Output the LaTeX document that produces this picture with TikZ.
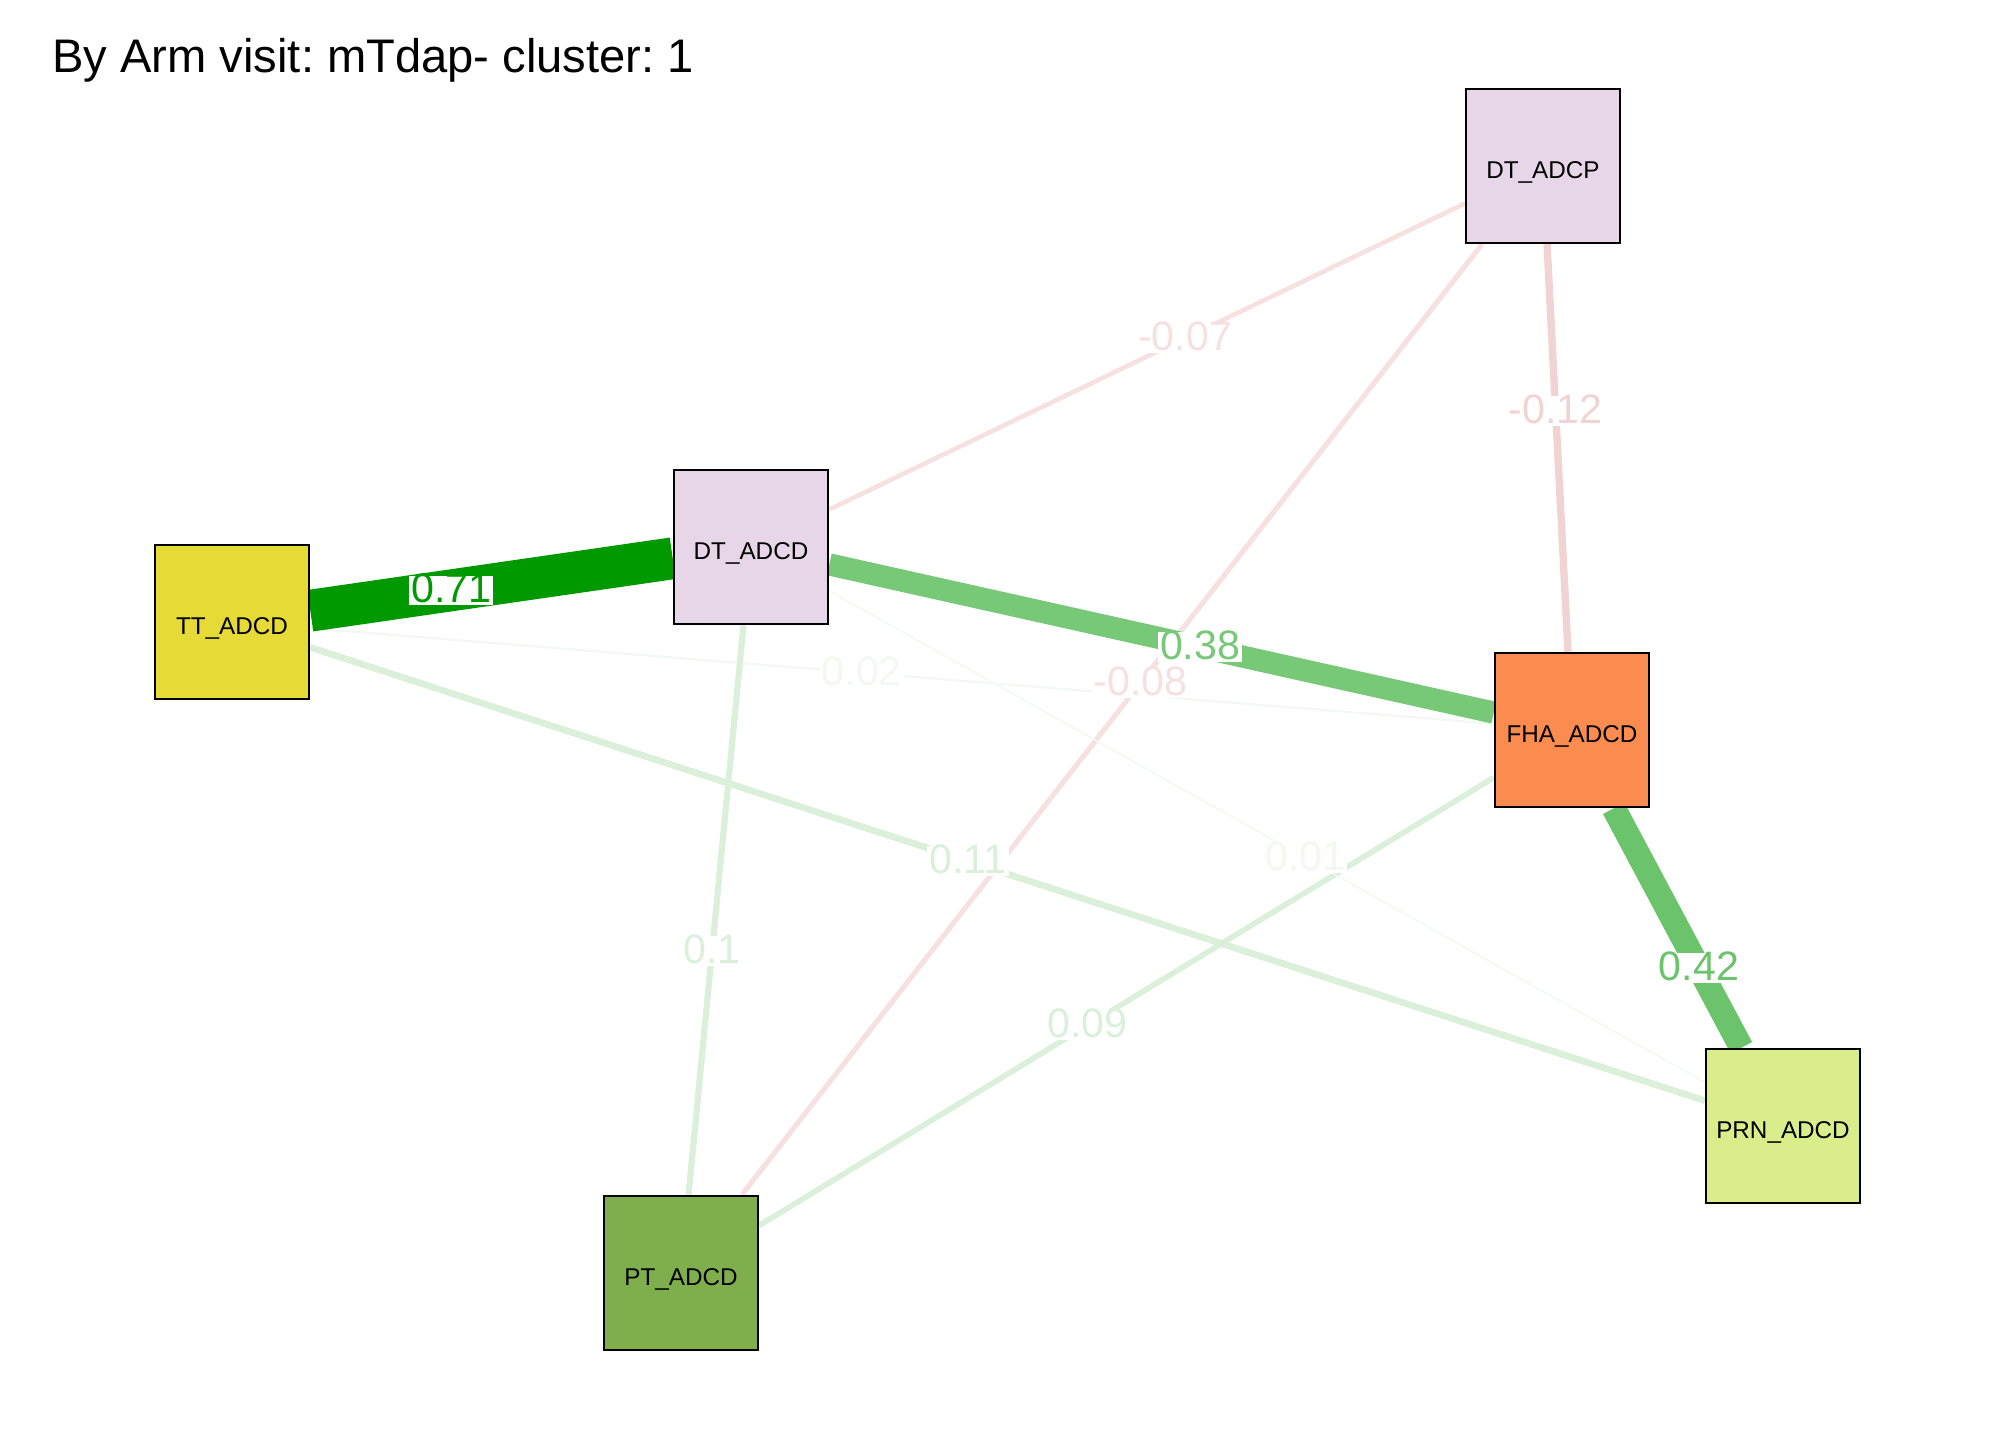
\documentclass[tikz,border=0pt]{standalone}
\usepackage{fontspec}
\setmainfont{Liberation Sans}
\definecolor{ttcol}{HTML}{E5DA36}
\definecolor{dtcol}{HTML}{E7D6E8}
\definecolor{fhacol}{HTML}{FB8C4F}
\definecolor{prncol}{HTML}{D9EE8B}
\definecolor{ptcol}{HTML}{7FAF4C}
\definecolor{wpos71}{HTML}{009900}
\definecolor{wpos42}{HTML}{6BC46B}
\definecolor{wpos38}{HTML}{77C877}
\definecolor{wpos10}{HTML}{DAF0DA}
\definecolor{wpos01}{HTML}{F2F9F2}
\definecolor{wneg07}{HTML}{F6E0E0}
\definecolor{wneg12}{HTML}{F2D3D3}
\pgfdeclarelayer{bg}
\pgfsetlayers{bg,main}
\frenchspacing

\begin{document}
\begin{tikzpicture}[x=0.01cm,y=-0.01cm,
  var/.style={draw,line width=0.7pt,minimum size=1.54cm,inner sep=0pt,text height=0.72em,text depth=0pt,font=\fontsize{6.9}{8}\selectfont},
  wt/.style={fill=white,inner sep=0.6pt,text height=0.72em,text depth=0pt,font=\fontsize{11.7}{13}\selectfont},
  link/.style={line cap=butt}]
\useasboundingbox (0,0) rectangle (2016,1440);
\node[anchor=base west,font=\fontsize{13.4}{16}\selectfont] (title) at (40,73) {By Arm visit: mTdap- cluster: 1};
% variables
\node[var,fill=dtcol] (dtp) at (1543,166) {DT\_ADCP};
\node[var,fill=dtcol] (dtd) at (751,547) {DT\_ADCD};
\node[var,fill=ttcol] (tt) at (232,622) {TT\_ADCD};
\node[var,fill=fhacol] (fha) at (1572,730) {FHA\_ADCD};
\node[var,fill=prncol] (prn) at (1783,1126) {PRN\_ADCD};
\node[var,fill=ptcol] (pt) at (681,1273) {PT\_ADCD};
% weights
\begin{pgfonlayer}{bg}
\draw[link,wpos01,line width=0.6pt](tt) -- node[wt,pos=0.466]{0.02} (fha);
\draw[link,wneg07,line width=1.45pt](dtp) -- node[wt,pos=0.4615]{-0.08} (pt);
\draw[link,wpos10,line width=1.6pt](fha) -- node[wt,pos=0.553]{0.09} (pt);
\draw[link,wpos10,line width=1.9pt](tt) -- node[wt,pos=0.4717]{0.11} (prn);
\draw[link,wpos10,line width=1.75pt](dtd) -- node[wt,pos=0.572]{0.1} (pt);
\draw[link,wpos01,line width=0.45pt](dtd) -- node[wt,pos=0.5436]{0.01} (prn);
\draw[link,wneg07,line width=1.3pt](dtp) -- node[wt,pos=0.44]{-0.07} (dtd);
\draw[link,wneg12,line width=2.1pt](dtp) -- node[wt,pos=0.409]{-0.12} (fha);
\draw[link,wpos38,line width=6.3pt](dtd) -- node[wt,pos=0.558]{0.38} (fha);
\draw[link,wpos42,line width=6.9pt](fha) -- node[wt,pos=0.667]{0.42} (prn);
\draw[link,wpos71,line width=11.9pt](tt) -- node[wt,pos=0.389]{0.71} (dtd);
\end{pgfonlayer}
\end{tikzpicture}
\end{document}
